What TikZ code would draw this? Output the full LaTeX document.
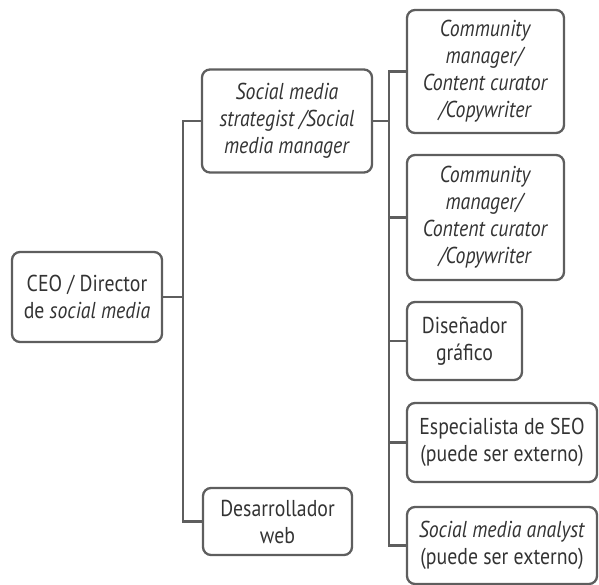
\documentclass[tikz,border=0pt]{standalone}
\usepackage{fontspec}
\setmainfont[FakeStretch=0.86]{PT Sans}
\definecolor{txt}{HTML}{333333}
\definecolor{ln}{HTML}{5E5E5E}
\begin{document}
\begin{tikzpicture}[x=1pt,y=-1pt,
  box/.style={draw=ln, line width=2.3pt, rounded corners=8pt, align=center, text=txt,
    inner sep=0pt, font=\fontsize{23}{27}\selectfont},
  conn/.style={draw=ln, line width=2.3pt}]
\useasboundingbox (0,0) rectangle (599,585);
\node[box, minimum width=150pt, minimum height=90pt] (ceo) at (87,297) {CEO / Director\\de \textit{social media}};
\node[box, minimum width=170pt, minimum height=103pt] (sms) at (287,121) {\textit{Social media}\\\textit{strategist /Social}\\\textit{media manager}};
\node[box, minimum width=149pt, minimum height=67pt] (dw) at (277.5,521.5) {Desarrollador\\web};
\node[box, minimum width=157pt, minimum height=123pt] (cm1) at (485.5,71.5) {\textit{Community}\\\textit{manager/}\\\textit{Content curator}\\\textit{/Copywriter}};
\node[box, minimum width=157pt, minimum height=125pt] (cm2) at (485.5,217.5) {\textit{Community}\\\textit{manager/}\\\textit{Content curator}\\\textit{/Copywriter}};
\node[box, minimum width=115pt, minimum height=78pt] (dg) at (464.5,341) {Diseñador\\gráfico};
\node[box, minimum width=190pt, minimum height=79pt] (seo) at (502,442.5) {Especialista de SEO\\(puede ser externo)};
\node[box, minimum width=190pt, minimum height=77pt] (sma) at (502,545.5) {\textit{Social media analyst}\\(puede ser externo)};
\coordinate (trunk) at (183,0);
\coordinate (bus) at (389,0);
\draw[conn] (ceo.east) -- (ceo.east -| trunk);
\draw[conn] (sms.west) -- (sms.west -| trunk) -- (dw.west -| trunk) -- (dw.west);
\draw[conn] (sms.east) -- (sms.east -| bus);
\draw[conn] (cm1.west) -- (cm1.west -| bus) -- (sma.west -| bus) -- (sma.west);
\draw[conn] (cm2.west) -- (cm2.west -| bus);
\draw[conn] (dg.west) -- (dg.west -| bus);
\draw[conn] (seo.west) -- (seo.west -| bus);
\end{tikzpicture}
\end{document}
